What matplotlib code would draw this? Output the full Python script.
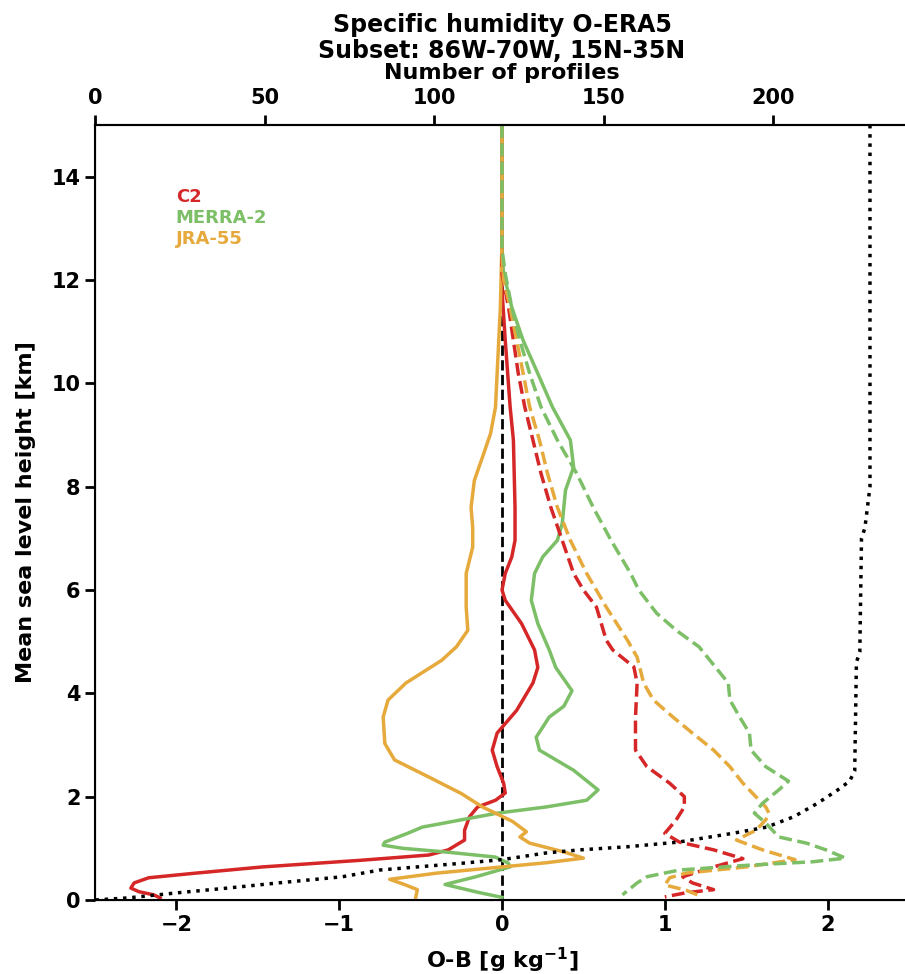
import matplotlib
matplotlib.use('Agg')
import matplotlib.pyplot as plt

# O-B profiles [g/kg] against height [km]
c2_z = [15, 12.5, 11.8, 10.83, 9.54, 8.9, 7.6, 6.96, 6.64, 6.32, 6.0, 5.8,
        5.35, 4.84, 4.5, 4.2, 3.67, 3.23, 2.9, 2.58, 2.26, 2.07, 1.93, 1.8,
        1.61, 1.35, 1.16, 0.97, 0.87, 0.77, 0.64, 0.52, 0.43, 0.33, 0.23,
        0.16, 0.1, 0.04]
c2_era5 = [0, 0, 0, 0.02, 0.05, 0.07, 0.08, 0.08, 0.06, 0.02, 0, 0.02, 0.12,
           0.2, 0.22, 0.19, 0.09, -0.03, -0.06, -0.03, 0.01, 0.02, -0.04,
           -0.15, -0.2, -0.23, -0.23, -0.33, -0.45, -0.86, -1.47, -1.88,
           -2.17, -2.26, -2.28, -2.23, -2.14, -2.1]

merra_z = [15, 12.5, 12.12, 11.47, 10.83, 10.19, 9.54, 8.9, 8.38, 7.93, 7.29,
           6.96, 6.64, 6.32, 5.8, 5.35, 4.84, 4.5, 4.05, 3.75, 3.54, 3.15, 2.9,
           2.51, 2.13, 1.93, 1.8, 1.68, 1.61, 1.41, 1.29, 1.12, 1.06, 1.0,
           0.93, 0.83, 0.71, 0.64, 0.45, 0.3, 0.15, 0.05]
merra_era5 = [0, 0, 0.01, 0.06, 0.13, 0.22, 0.31, 0.42, 0.44, 0.39, 0.37,
              0.34, 0.25, 0.2, 0.18, 0.22, 0.29, 0.33, 0.43, 0.38, 0.29, 0.21,
              0.23, 0.44, 0.59, 0.52, 0.27, -0.03, -0.15, -0.49, -0.58, -0.72,
              -0.73, -0.61, -0.35, -0.04, 0.04, 0.05, -0.16, -0.35, -0.15, 0.0]

jra_z = [15, 12.77, 11.47, 10.19, 9.54, 9.03, 8.57, 8.12, 7.6, 7.21, 6.83,
         6.32, 5.67, 5.22, 4.9, 4.64, 4.2, 3.87, 3.54, 3.03, 2.71, 2.38, 2.06,
         1.8, 1.52, 1.32, 1.22, 1.1, 0.93, 0.81, 0.72, 0.64, 0.52, 0.4, 0.3,
         0.2, 0.05]
jra_era5 = [0, 0, -0.01, -0.03, -0.04, -0.07, -0.12, -0.17, -0.19, -0.18,
            -0.18, -0.22, -0.22, -0.21, -0.28, -0.37, -0.59, -0.7, -0.73,
            -0.72, -0.66, -0.45, -0.25, -0.12, 0.065, 0.15, 0.11, 0.17, 0.38,
            0.5, 0.27, 0.0, -0.4, -0.69, -0.6, -0.52, -0.53]

# dashed profiles
c2_d_z = [15, 12.5, 12.12, 11.47, 10.83, 10.19, 9.54, 8.9, 8.25, 7.6, 6.96,
          6.32, 6.0, 5.67, 5.35, 5.03, 4.84, 4.51, 4.2, 3.54, 2.9, 2.58, 2.26,
          2.0, 1.8, 1.55, 1.29, 1.12, 0.97, 0.8, 0.64, 0.45, 0.33, 0.2, 0.14,
          0.06]
c2_d = [0, 0, 0, 0.04, 0.07, 0.1, 0.14, 0.19, 0.24, 0.3, 0.37, 0.44, 0.5,
        0.58, 0.61, 0.64, 0.68, 0.81, 0.83, 0.82, 0.82, 0.89, 1.03, 1.12, 1.12,
        1.07, 1.0, 1.09, 1.3, 1.48, 1.3, 1.11, 1.17, 1.3, 1.13, 1.0]

jra_d_z = [15, 12.5, 12.0, 11.47, 10.83, 10.19, 9.54, 8.9, 8.25, 7.6, 6.96,
           6.32, 5.67, 5.03, 4.7, 4.45, 4.2, 3.87, 3.54, 3.23, 2.9, 2.58, 2.26,
           1.93, 1.8, 1.68, 1.55, 1.35, 1.16, 0.97, 0.78, 0.64, 0.52, 0.43,
           0.29, 0.19, 0.1]
jra_d = [0, 0, 0.01, 0.05, 0.09, 0.13, 0.17, 0.23, 0.28, 0.34, 0.42, 0.52,
         0.64, 0.77, 0.83, 0.85, 0.87, 0.93, 1.05, 1.17, 1.3, 1.4, 1.48, 1.58,
         1.62, 1.64, 1.62, 1.56, 1.44, 1.6, 1.8, 1.5, 1.13, 1.03, 1.0, 1.13,
         1.2]

merra_d_z = [15, 12.6, 12.12, 11.47, 10.83, 10.19, 9.54, 8.9, 8.25, 7.6, 6.96,
             6.32, 6.0, 5.55, 5.22, 4.9, 4.55, 4.2, 3.87, 3.54, 3.23, 2.9,
             2.58, 2.3, 2.13, 1.87, 1.68, 1.49, 1.22, 1.1, 0.97, 0.81, 0.74,
             0.67, 0.58, 0.45, 0.33, 0.1]
merra_d = [0, 0, 0.02, 0.06, 0.11, 0.17, 0.24, 0.34, 0.46, 0.56, 0.67, 0.79,
           0.84, 0.95, 1.07, 1.21, 1.30, 1.39, 1.40, 1.46, 1.52, 1.53, 1.62,
           1.76, 1.70, 1.60, 1.55, 1.62, 1.70, 1.87, 1.99, 2.11, 1.91, 1.5,
           1.09, 0.89, 0.83, 0.74]

# number of profiles (top axis)
n_z = [15, 8.0, 7.2, 7.0, 4.8, 4.6, 2.5, 2.3, 2.13, 1.87, 1.61, 1.41, 1.29,
       1.12, 1.03, 0.97, 0.91, 0.78, 0.71, 0.58, 0.45, 0.33, 0.23, 0.14,
       0.04, 0.0]
n_prof = [228.5, 228.5, 227, 226, 225.5, 224.5, 224, 222.5, 219, 213, 206,
          198, 188, 172, 157, 143, 133, 120, 108, 84, 73, 54, 39, 24.5, 9.7, 0]

RED = '#d62728'
GREEN = '#7cbf67'
ORANGE = '#e6a93c'

plt.rcParams['font.weight'] = 'bold'
plt.rcParams['axes.labelweight'] = 'bold'
plt.rcParams['axes.titleweight'] = 'bold'

fig = plt.figure(figsize=(9.05, 9.74), dpi=100)
ax = fig.add_axes([0.105, 0.076, 0.8994, 0.7957])

ax.axvline(0, color='k', linestyle='--', linewidth=2)
ax.plot(c2_era5, c2_z, color=RED, linewidth=2.5, label='C2')
ax.plot(merra_era5, merra_z, color=GREEN, linewidth=2.5, label='MERRA-2')
ax.plot(jra_era5, jra_z, color=ORANGE, linewidth=2.5, label='JRA-55')
ax.plot(c2_d, c2_d_z, color=RED, linewidth=2.5, linestyle='--')
ax.plot(jra_d, jra_d_z, color=ORANGE, linewidth=2.5, linestyle='--')
ax.plot(merra_d, merra_d_z, color=GREEN, linewidth=2.5, linestyle='--')

ax.set_xlim(-2.5, 2.5)
ax.set_ylim(0, 15)
ax.set_xticks([-2, -1, 0, 1, 2])
ax.set_yticks(range(0, 15, 2))
ax.set_xlabel('O-B [g kg$^{-1}$]', fontsize=16, labelpad=8)
ax.set_ylabel('Mean sea level height [km]', fontsize=16, labelpad=11)
ax.tick_params(direction='out', length=7, width=2, labelsize=15)
ax.spines['right'].set_visible(False)
for s in ['left', 'bottom', 'top']:
    ax.spines[s].set_linewidth(1.5)

leg = ax.legend(loc='upper left', bbox_to_anchor=(0.088, 0.93), frameon=False,
                handlelength=0, handletextpad=0, borderpad=0,
                labelspacing=0.15, fontsize=13, labelcolor='linecolor')
for h in leg.legend_handles:
    h.set_visible(False)

ax2 = ax.twiny()
ax2.plot(n_prof, n_z, color='k', linestyle=':', linewidth=2.5)
ax2.set_xlim(0, 240)
ax2.set_xticks([0, 50, 100, 150, 200])
ax2.set_xlabel('Number of profiles', fontsize=16, labelpad=7)
ax2.tick_params(direction='out', length=7, width=2, labelsize=15, pad=5)
ax2.spines['right'].set_visible(False)
ax2.spines['top'].set_linewidth(1.5)
ax2.set_title('Specific humidity O-ERA5\nSubset: 86W-70W, 15N-35N',
              fontsize=17, pad=0, linespacing=1.1)

fig.savefig('out.png', dpi=100)
